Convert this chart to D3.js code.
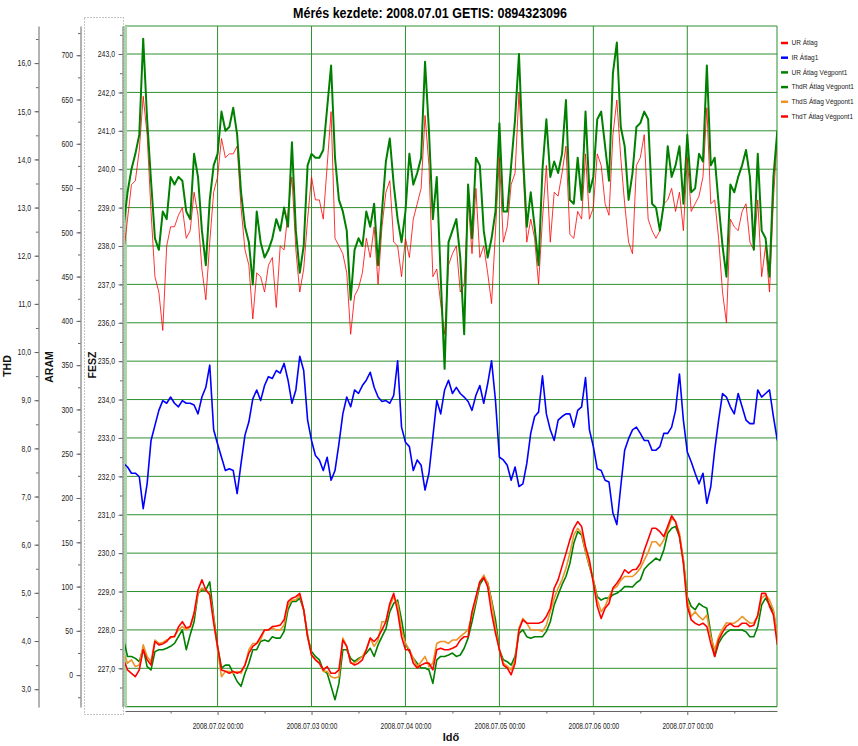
<!DOCTYPE html>
<html>
<head>
<meta charset="utf-8">
<script src="https://cdn.jsdelivr.net/npm/d3@7"></script>
<style>
body{margin:0;background:#fff;}
text{font-family:"Liberation Sans",Arial,sans-serif;}
</style>
</head>
<body>
<script>
// ---------- DATA ----------
const startTime = "2008-07-01 00:00";   // first sample
const stepHours = 1;                      // hourly samples
const titleText = "Mérés kezdete: 2008.07.01 GETIS: 0894323096";
const seriesNames = ["UR Átlag","IR Átlag1","UR Átlag Végpont1","ThdR Átlag Végpont1","ThdS Átlag Végpont1","ThdT Átlag Végpont1"];
const xTickLabels = ["2008.07.02 00:00","2008.07.03 00:00","2008.07.04 00:00","2008.07.05 00:00","2008.07.06 00:00","2008.07.07 00:00"];
const thdTicks = [3,4,5,6,7,8,9,10,11,12,13,14,15,16];
const aramTicks = [0,50,100,150,200,250,300,350,400,450,500,550,600,650,700];
const feszTicks = [227,228,229,230,231,232,233,234,235,236,237,238,239,240,241,242,243];

// UR Átlag (V)
const urAtlag = [237.8,238.7,239.6,239.7,240.5,241.9,240.9,238.9,237.2,236.8,235.8,238.0,238.5,238.5,238.8,239.0,238.2,238.4,239.4,238.8,237.4,236.6,238.1,239.4,
239.8,240.8,240.3,240.4,240.4,240.6,239.0,237.9,237.5,236.1,237.3,237.2,236.8,237.5,237.7,236.4,238.0,237.9,238.9,239.8,237.9,236.8,237.4,238.7,
239.8,239.2,239.2,238.7,240.1,241.5,238.2,238.0,237.8,237.3,235.7,236.7,236.9,237.3,238.2,237.7,238.5,237.0,238.5,239.4,239.7,238.1,238.0,237.2,
238.2,237.7,238.7,239.1,239.5,241.4,240.1,237.2,237.4,236.5,235.7,237.5,237.8,238.0,236.8,237.0,239.2,237.8,239.5,237.7,238.0,237.3,236.5,238.4,
240.3,238.1,238.5,239.6,239.9,242.0,240.1,238.1,238.7,238.2,237.0,238.7,240.1,238.1,239.4,239.3,239.9,240.6,238.3,238.2,238.9,238.7,240.4,238.7,
239.0,240.4,240.1,239.1,238.8,240.9,241.8,240.3,239.1,238.1,237.8,240.1,240.3,240.9,238.7,238.4,238.2,238.4,239.1,239.2,239.5,238.9,239.4,238.4,
240.3,238.9,239.1,239.3,239.8,241.6,239.1,239.2,238.2,236.8,236.0,238.7,238.5,238.4,238.9,239.1,238.1,237.9,239.2,237.2,238.0,236.8,239.2,240.9];

// IR Átlag1 (A)
const irAtlag1 = [239,235,228,228,224,188,216,265,282,299,310,307,314,307,303,310,307,307,305,295,314,325,350,277,
261,246,231,233,231,205,239,271,286,312,322,310,327,337,335,344,341,352,333,307,322,360,344,288,
265,248,243,231,246,220,231,261,295,314,303,322,318,327,333,342,325,314,309,310,307,316,355,280,
263,258,231,243,237,209,228,269,310,295,322,333,318,325,318,314,309,299,316,327,307,329,355,310,
246,243,237,220,235,213,216,239,273,292,297,338,295,277,265,288,292,295,295,280,299,303,336,277,
258,233,231,220,218,183,170,213,254,267,277,280,273,265,265,254,254,258,273,273,280,299,340,288,
252,241,228,216,228,194,213,254,288,318,314,303,295,318,303,288,284,284,322,314,318,322,292,265];

// UR Átlag Végpont1 (V)
const urVegpont1 = [238.5,239.4,240.0,240.4,240.9,243.4,241.3,239.7,238.2,237.9,238.9,238.7,239.8,239.6,239.8,239.7,238.9,238.7,240.4,239.8,238.4,237.5,239.2,240.1,
240.4,241.5,241.0,241.1,241.6,240.9,239.4,238.5,238.1,237.0,238.9,238.1,237.7,237.9,238.2,238.7,238.4,239.0,238.5,240.7,238.4,237.3,238.0,240.1,
240.4,240.3,240.3,240.5,241.6,242.7,240.3,239.2,238.9,238.4,236.6,237.9,238.2,238.0,238.9,238.5,239.1,237.5,238.9,240.2,240.8,239.6,238.7,238.1,
238.9,240.4,239.6,239.9,240.3,242.8,241.0,238.7,239.8,237.2,234.8,238.1,238.4,238.7,237.7,235.7,239.6,238.2,240.3,240.1,238.4,237.7,238.2,238.9,
241.2,238.9,238.9,240.1,241.3,243.0,240.4,238.5,239.4,238.5,237.5,240.0,241.3,239.8,240.2,239.9,240.4,241.8,239.2,239.1,240.3,239.2,241.5,239.4,
239.8,241.3,241.5,240.6,239.7,242.5,243.3,241.1,240.6,239.2,239.9,241.1,241.2,241.5,241.3,239.1,239.0,238.4,239.1,240.6,239.8,240.1,240.6,239.1,
240.9,239.4,239.5,240.4,240.2,242.7,240.1,240.3,239.1,238.0,237.2,239.6,239.4,239.8,240.1,240.5,239.8,237.9,240.4,238.4,238.2,237.2,239.8,241.0];

// ThdR Átlag Végpont1 (%)
const thdR = [4.02,3.68,3.68,3.64,3.57,3.85,3.47,3.40,3.78,3.82,3.82,3.85,3.89,3.95,4.09,4.23,3.82,4.13,4.40,4.99,5.06,5.06,5.23,4.51,
3.89,3.44,3.50,3.50,3.33,3.16,3.06,3.33,3.54,3.82,3.82,3.99,4.02,3.99,4.09,4.06,4.06,4.20,4.65,4.82,4.82,4.89,4.65,4.09,
3.78,3.68,3.61,3.39,3.33,3.06,2.78,3.12,3.82,3.82,3.64,3.57,3.64,3.68,3.75,3.85,3.68,3.92,4.09,4.25,4.61,4.78,4.85,4.44,
3.95,3.78,3.64,3.54,3.44,3.44,3.40,3.12,3.61,3.68,3.68,3.71,3.75,3.68,3.71,3.85,4.06,4.40,4.78,5.17,5.30,5.21,4.85,4.44,
3.82,3.61,3.57,3.50,3.68,4.16,4.23,4.09,4.06,4.09,4.09,4.09,4.20,4.40,4.75,4.96,5.17,5.34,5.61,6.03,6.27,6.20,5.86,5.55,
5.27,4.92,4.85,4.89,4.89,4.96,4.99,5.05,5.13,5.13,5.12,5.21,5.27,5.49,5.58,5.65,5.72,5.67,5.89,6.24,6.34,6.38,6.17,5.68,
4.92,4.72,4.65,4.78,4.72,4.68,4.16,3.68,3.95,4.09,4.18,4.23,4.23,4.23,4.23,4.19,4.09,4.09,4.30,4.75,4.89,4.75,4.61,4.09];

// ThdS Átlag Végpont1 (%)
const thdS = [3.75,3.54,3.61,3.47,3.50,3.92,3.68,3.57,4.02,3.95,3.97,4.02,4.06,4.11,4.23,4.30,4.23,4.29,4.54,4.99,5.10,5.06,4.99,4.47,
3.82,3.26,3.37,3.37,3.33,3.37,3.33,3.50,3.82,3.95,3.95,4.02,4.23,4.23,4.27,4.23,4.23,4.33,4.75,4.85,4.85,4.96,4.65,4.13,
3.71,3.61,3.54,3.37,3.37,3.26,3.23,3.26,4.06,3.89,3.54,3.54,3.61,3.68,3.82,4.06,3.89,4.02,4.40,4.40,4.72,4.92,4.78,4.23,
3.95,3.82,3.64,3.47,3.57,3.68,3.47,3.54,3.95,3.99,3.99,3.95,4.02,4.02,4.09,4.16,4.23,4.54,4.85,5.23,5.37,5.20,4.82,4.27,
3.82,3.54,3.48,3.40,3.61,4.27,4.47,4.37,4.23,4.23,4.23,4.20,4.33,4.61,4.89,5.10,5.27,5.51,5.82,6.20,6.34,6.24,5.86,5.58,
5.27,4.85,4.61,4.72,4.92,5.08,5.13,5.26,5.34,5.34,5.34,5.41,5.51,5.68,5.84,6.06,6.06,5.97,6.10,6.31,6.55,6.48,6.24,5.68,
4.85,4.51,4.61,4.51,4.44,4.54,4.09,3.82,4.09,4.25,4.38,4.37,4.37,4.43,4.51,4.44,4.37,4.38,4.51,4.89,4.96,4.85,4.65,4.09];

// ThdT Átlag Végpont1 (%)
const thdT = [3.61,3.40,3.33,3.26,3.40,3.82,3.61,3.50,3.99,3.92,3.94,3.99,4.09,4.09,4.29,4.40,4.27,4.30,4.58,5.06,5.27,5.06,4.96,4.37,
3.89,3.40,3.37,3.33,3.37,3.33,3.37,3.50,3.75,3.89,3.95,4.09,4.23,4.23,4.30,4.31,4.33,4.44,4.82,4.89,4.92,4.99,4.65,4.09,
3.71,3.61,3.54,3.40,3.47,3.33,3.33,3.40,4.02,3.89,3.55,3.50,3.54,3.61,3.82,4.06,3.99,4.08,4.23,4.40,4.78,4.99,4.61,4.09,
3.82,3.82,3.54,3.44,3.50,3.54,3.54,3.40,3.82,3.85,3.82,3.82,3.85,3.89,4.02,4.09,4.09,4.61,4.92,5.23,5.32,5.13,4.58,4.16,
3.82,3.50,3.44,3.30,3.54,4.23,4.44,4.37,4.37,4.37,4.37,4.40,4.51,4.68,5.10,5.27,5.55,5.82,6.10,6.34,6.48,6.38,5.96,5.68,
5.20,4.72,4.47,4.68,4.78,5.10,5.20,5.32,5.48,5.41,5.48,5.49,5.61,5.88,6.11,6.34,6.34,6.27,6.17,6.38,6.60,6.48,6.17,5.61,
4.72,4.44,4.37,4.33,4.37,4.30,3.95,3.68,4.02,4.18,4.31,4.36,4.30,4.30,4.37,4.37,4.30,4.33,4.54,4.99,4.99,4.72,4.54,3.92];

// ---------- LAYOUT ----------
const W = 858, H = 746;
const PL = 125, PR = 777, PT = 26, PB = 706.7;
const parse = d3.timeParse("%Y-%m-%d %H:%M");
const t0 = parse(startTime);
const times = urAtlag.map((d,i) => d3.timeHour.offset(t0, i*stepHours));

const x = d3.scaleTime().domain([parse("2008-07-01 00:21"), parse("2008-07-07 22:55")]).range([PL, PR]);
const yV = d3.scaleLinear().domain([226, 243.73]).range([PB, PT]);
const yA = d3.scaleLinear().domain([-36, 733]).range([707, PT]);
const yT = d3.scaleLinear().domain([2.63, 16.77]).range([707, PT]);

const svg = d3.select("body").append("svg").attr("width", W).attr("height", H);

function squeeze(sel, k){
  sel.each(function(){
    const w = this.getComputedTextLength();
    d3.select(this).attr("textLength", w*k).attr("lengthAdjust","spacingAndGlyphs");
  });
}
const comma = d => d.toFixed(1).replace(".", ",");
const GRID = "#2f8f2f";

// grid
const grid = svg.append("g");
grid.selectAll("line.h").data(feszTicks).join("line")
  .attr("x1", PL).attr("x2", PR).attr("y1", d => yV(d)).attr("y2", d => yV(d))
  .attr("stroke", GRID).attr("stroke-width", 1);
const dayTicks = xTickLabels.map(s => parse(s.replace(/\./g,"-")));
grid.selectAll("line.v").data(dayTicks).join("line")
  .attr("x1", d => x(d)).attr("x2", d => x(d)).attr("y1", PT).attr("y2", PB)
  .attr("stroke", GRID).attr("stroke-width", 1);
// borders
svg.append("line").attr("x1",PL).attr("x2",PR).attr("y1",PT).attr("y2",PT).attr("stroke",GRID);
svg.append("line").attr("x1",PL).attr("x2",PR).attr("y1",PB).attr("y2",PB).attr("stroke",GRID).attr("stroke-width",1.2);
svg.append("line").attr("x1",PR).attr("x2",PR).attr("y1",PT).attr("y2",PB).attr("stroke",GRID);
svg.append("line").attr("x1",PL+0.5).attr("x2",PL+0.5).attr("y1",PT).attr("y2",PB).attr("stroke","#a9d6a9").attr("stroke-width",3);

// clip
svg.append("clipPath").attr("id","plotclip").append("rect")
  .attr("x", PL).attr("y", PT).attr("width", PR-PL).attr("height", PB-PT+1);
const plot = svg.append("g").attr("clip-path","url(#plotclip)");

const lineOf = (scale) => d3.line().x((d,i) => x(times[i])).y(d => scale(d));
const series = [
  {data: urAtlag,    scale: yV, color: "#ff0000", w: 1,   op: 0.8},
  {data: irAtlag1,   scale: yA, color: "#0000ff", w: 1.6, op: 1},
  {data: urVegpont1, scale: yV, color: "#008000", w: 2,   op: 1},
  {data: thdR,       scale: yT, color: "#008000", w: 1.6, op: 1},
  {data: thdS,       scale: yT, color: "#ec9428", w: 1.6, op: 1},
  {data: thdT,       scale: yT, color: "#ff0000", w: 1.6, op: 1}
];
series.forEach(s => {
  plot.append("path").attr("d", lineOf(s.scale)(s.data))
    .attr("fill","none").attr("stroke", s.color).attr("stroke-width", s.w)
    .attr("stroke-opacity", s.op).attr("stroke-linejoin","round");
});

// ---------- AXES ----------
function styleAxis(g){
  g.select(".domain").attr("stroke","#666");
  g.selectAll(".tick line").attr("stroke","#666");
  g.selectAll(".tick text").attr("fill","#222").attr("font-size","8.6px");
}
function leftAxis(xpos, scale, ticks, fmt, minor){
  const g = svg.append("g").attr("transform",`translate(${xpos},0)`);
  g.call(d3.axisLeft(scale).tickValues(minor).tickSize(2.5).tickSizeOuter(0).tickFormat(""));
  g.select(".domain").remove();
  const g2 = svg.append("g").attr("transform",`translate(${xpos},0)`);
  g2.call(d3.axisLeft(scale).tickValues(ticks).tickSize(4).tickPadding(3.5).tickSizeOuter(0).tickFormat(fmt));
  styleAxis(g2); styleAxis(g);
  squeeze(g2.selectAll(".tick text"), 0.8);
}
leftAxis(38.5, yT, thdTicks, comma, d3.range(2.5, 16.6, 0.5).filter(v => v >= 2.7));
leftAxis(80.5, yA, aramTicks, d3.format("d"), d3.range(-25, 726, 25));
leftAxis(122.5, yV, feszTicks, comma, d3.range(226.5, 243.6, 0.5));

// dotted frame around FESZ axis
svg.append("rect").attr("x",84.5).attr("y",17.5).attr("width",39).attr("height",697)
  .attr("fill","none").attr("stroke","#8a8a8a").attr("stroke-dasharray","1,2");

// bottom axis
const minorDays = d3.range(0,7).map(i => d3.timeHour.offset(parse("2008-07-01 12:00"), 24*i));
const gxm = svg.append("g").attr("transform","translate(0,711)")
  .call(d3.axisBottom(x).tickValues(minorDays).tickSize(2.5).tickSizeOuter(0).tickFormat(""));
const gx = svg.append("g").attr("transform","translate(0,711)")
  .call(d3.axisBottom(x).tickValues(dayTicks).tickSize(4).tickPadding(8).tickSizeOuter(0)
    .tickFormat((d,i) => xTickLabels[i]));
styleAxis(gx); styleAxis(gxm);
gxm.select(".domain").remove();
gx.selectAll(".tick text").attr("font-size","8.8px");
squeeze(gx.selectAll(".tick text"), 0.74);

// axis titles
function vtitle(tx, ty, s){
  svg.append("text").attr("transform",`translate(${tx},${ty}) rotate(-90)`)
    .attr("text-anchor","middle").attr("font-weight","bold").attr("font-size","10.5px")
    .attr("fill","#111").text(s);
}
vtitle(11, 366, "THD");
vtitle(53, 367, "ARAM");
vtitle(95.5, 365, "FESZ");

svg.append("text").attr("x",451).attr("y",741).attr("text-anchor","middle")
  .attr("font-weight","bold").attr("font-size","11px").attr("fill","#111").text("Idő");

// title
svg.append("text").attr("x",430).attr("y",17.5).attr("text-anchor","middle")
  .attr("font-weight","bold").attr("font-size","15px").attr("fill","#000")
  .attr("textLength",274).attr("lengthAdjust","spacingAndGlyphs").text(titleText);

// legend
const legColors = ["#ff0000","#0000ff","#008000","#008000","#ec9428","#ff0000"];
const legY = [43, 57.7, 72.4, 87.1, 101.8, 116.5];
const leg = svg.append("g");
seriesNames.forEach((n,i) => {
  leg.append("line").attr("x1",781).attr("x2",788).attr("y1",legY[i]).attr("y2",legY[i])
    .attr("stroke",legColors[i]).attr("stroke-width",2.5);
  const t = leg.append("text").attr("x",791.5).attr("y",legY[i]).attr("dy","0.35em")
    .attr("font-size","6.8px").attr("fill","#222").text(n);
  squeeze(t, 0.96);
});
</script>
</body>
</html>
